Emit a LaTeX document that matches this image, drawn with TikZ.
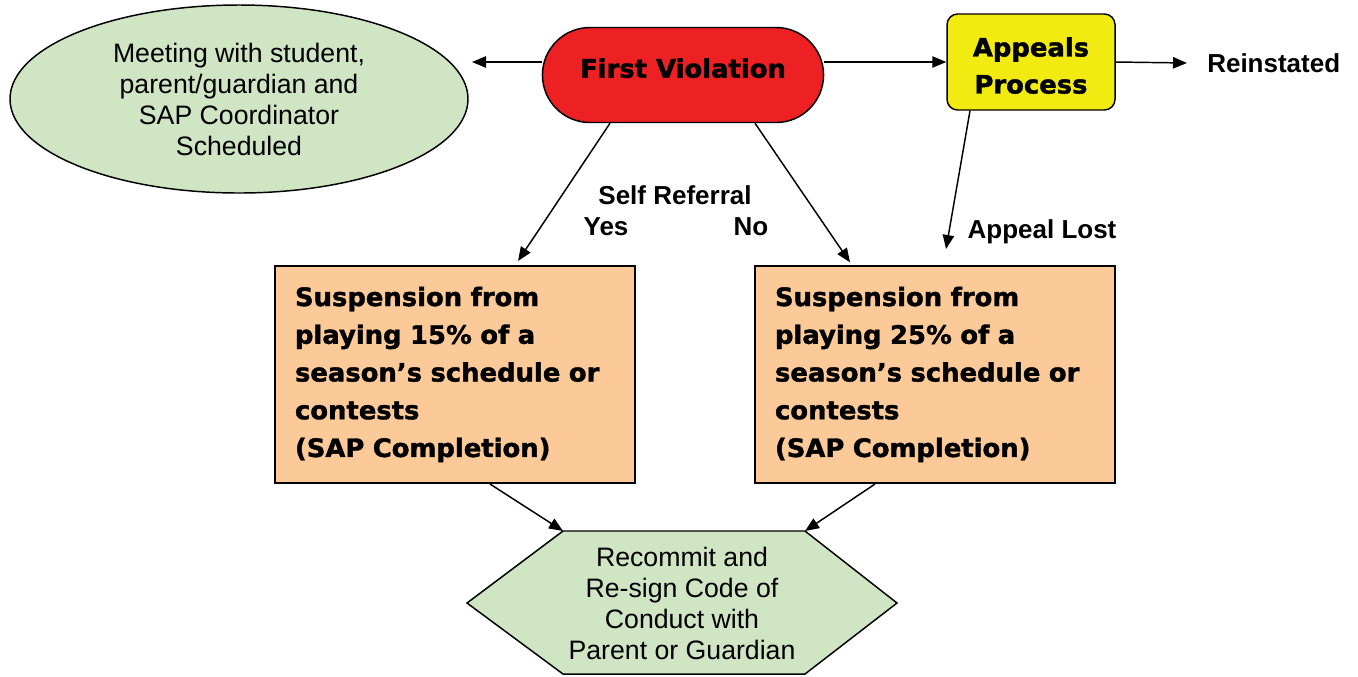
\documentclass[tikz,border=0pt]{standalone}
\usepackage{fontspec}
\setmainfont{Liberation Sans}
\newfontfamily\heavy{DejaVu Sans}[BoldFeatures={FakeBold=1.5,FakeStretch=1.02}]
\usetikzlibrary{shapes.geometric,shapes.misc,arrows.meta}
\definecolor{cgreen}{RGB}{207,229,195}
\definecolor{cred}{RGB}{237,32,36}
\definecolor{cyellow}{RGB}{242,235,18}
\definecolor{corange}{RGB}{251,202,152}
\begin{document}
\begin{tikzpicture}[x=0.75pt,y=-0.75pt,
  arr/.style={line width=1.1pt,-{Triangle[length=10.5pt,width=8.5pt]}},
  reg/.style={font=\fontsize{20}{23.25}\selectfont,align=center},
  lbl/.style={font=\fontsize{19.5}{22}\selectfont\bfseries,inner sep=0pt},
  hv/.style={font=\heavy\bfseries\fontsize{19}{28.3}\selectfont},
  hvap/.style={font=\heavy\bfseries\fontsize{19}{27.75}\selectfont}]
\useasboundingbox (0,0) rectangle (1358,676);

\node[ellipse, draw, line width=1.1pt, fill=cgreen, minimum width=343.5pt,
  minimum height=141pt, reg] (meet) at (239,99)
  {Meeting with student,\\parent/guardian and\\SAP Coordinator\\Scheduled};

\node[rounded rectangle, draw, fill=cred, line width=1.1pt, minimum width=217.5pt,
  minimum height=71.25pt, hv] (fv) at (683,75) {\raisebox{10.5pt}{First Violation}};

\node[rectangle, rounded corners=8pt, draw, fill=cyellow, line width=1.1pt,
  minimum width=126pt, minimum height=72pt, hvap] (ap) at (1031,62)
  {\raisebox{-8.5pt}[0pt][0pt]{\begin{tabular}{@{}c@{}}Appeals\\Process\end{tabular}}};

\node[lbl, anchor=west] (rein) at (1207,63) {Reinstated};

\node[draw, fill=corange, line width=1.5pt, minimum width=270pt, minimum height=162.75pt,
  text width=240pt, inner xsep=15pt, align=left, hv] (b1) at (455,374.5)
  {Suspension from\\playing 15\% of a\\season’s schedule or\\contests\\(SAP Completion)};
\node[draw, fill=corange, line width=1.5pt, minimum width=270pt, minimum height=162.75pt,
  text width=240pt, inner xsep=15pt, align=left, hv] (b2) at (935,374.5)
  {Suspension from\\playing 25\% of a\\season’s schedule or\\contests\\(SAP Completion)};

\coordinate (h1) at (563,531);
\coordinate (h2) at (805,531);
\coordinate (h3) at (897,603);
\coordinate (h4) at (805,674);
\coordinate (h5) at (563,674);
\coordinate (h6) at (467,603);
\draw[fill=cgreen, line width=1.1pt] (h1)--(h2)--(h3)--(h4)--(h5)--(h6)--cycle;
\node[reg] (hex) at (682,603) {Recommit and\\Re-sign Code of\\Conduct with\\Parent or Guardian};

\node[lbl] (self) at (675,195) {Self Referral};
\node[lbl] (yes) at (606,227) {Yes};
\node[lbl] (no) at (751,227) {No};
\node[lbl] (lost) at (1042,232) {Appeal Lost};

\coordinate (mt) at (472,62);
\draw[arr] (fv.west |- mt) -- (mt);
\draw[arr] (fv.east |- ap.west) -- (ap.west);
\draw[arr] (ap.east) -- ([xshift=-15pt]rein.west);
\draw[arr] ([xshift=-54.75pt]fv.south) -- ([xshift=47.25pt,yshift=3pt]b1.north);
\draw[arr] ([xshift=54pt]fv.south) -- ([xshift=-63.75pt,yshift=2pt]b2.north);
\draw[arr] ([xshift=-45.75pt]ap.south) -- ([xshift=8.25pt,yshift=12pt]b2.north);
\draw[arr] ([xshift=26.25pt]b1.south) -- (h1);
\draw[arr] ([xshift=-45pt]b2.south) -- (h2);
\end{tikzpicture}
\end{document}
